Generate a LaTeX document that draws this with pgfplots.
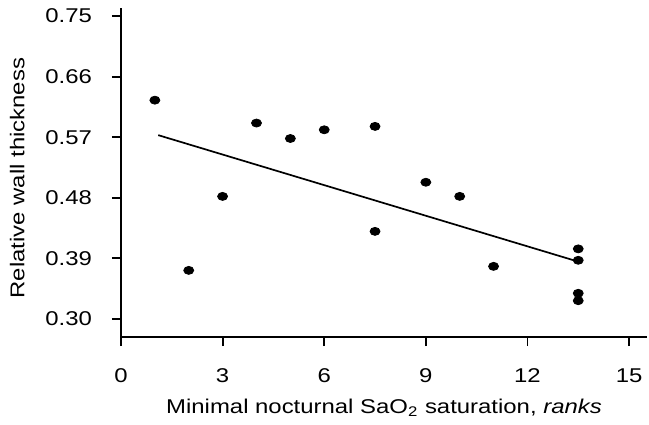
\documentclass[border=0pt]{standalone}
\usepackage{pgfplots}
\pgfplotsset{compat=1.18}
\usepackage{fontspec}
\setmainfont{Liberation Sans}[FakeStretch=1.2]
\newcommand\lblfont{\fontsize{10}{12}\selectfont}

\begin{document}
\begin{tikzpicture}
\useasboundingbox (0,0) rectangle (324.5bp,212.5bp);
\begin{axis}[
  at={(60.5bp,44bp)}, anchor=south west,
  scale only axis,
  width=263bp, height=164.5bp,
  xmin=0, xmax=15.53,
  ymin=0.273, ymax=0.762,
  axis x line*=bottom, axis y line*=left,
  axis line style={line width=1bp, -},
  every tick/.style={black, line width=0.9bp},
  tick align=outside,
  major tick length=4.5bp,
  xtick={0,3,6,9,12,15},
  ytick={0.30,0.39,0.48,0.57,0.66,0.75},
  yticklabels={0.30,0.39,0.48,0.57,0.66,0.75},
  /pgf/number format/assume math mode=true,
  tick label style={font=\lblfont},
  label style={font=\lblfont},
  xticklabel style={yshift=-8bp},
  yticklabel style={xshift=-6.5bp},
  xlabel={Minimal nocturnal SaO\textsubscript{2} saturation, \textit{ranks}},
  ylabel={Relative wall thickness},
  xlabel style={at={(axis description cs:0.5,-0.216)}, anchor=center},
  ylabel style={at={(axis description cs:-0.197,0.483)}, anchor=center, rotate=0},
  clip=false,
]
% fitted line
\addplot[black, line width=0.85bp] coordinates {(1.1,0.573) (13.5,0.385)};
% patients
\addplot[only marks, mark=*, mark size=2bp,
  mark options={black, fill=black, xscale=1.25}] coordinates {
  (1,0.625) (2,0.372) (3,0.482) (4,0.591) (5,0.568) (6,0.581)
  (7.5,0.586) (7.5,0.430) (9,0.503) (10,0.482) (11,0.378)
  (13.5,0.404) (13.5,0.387) (13.5,0.338) (13.5,0.327)
};
\end{axis}
\end{tikzpicture}
\end{document}
